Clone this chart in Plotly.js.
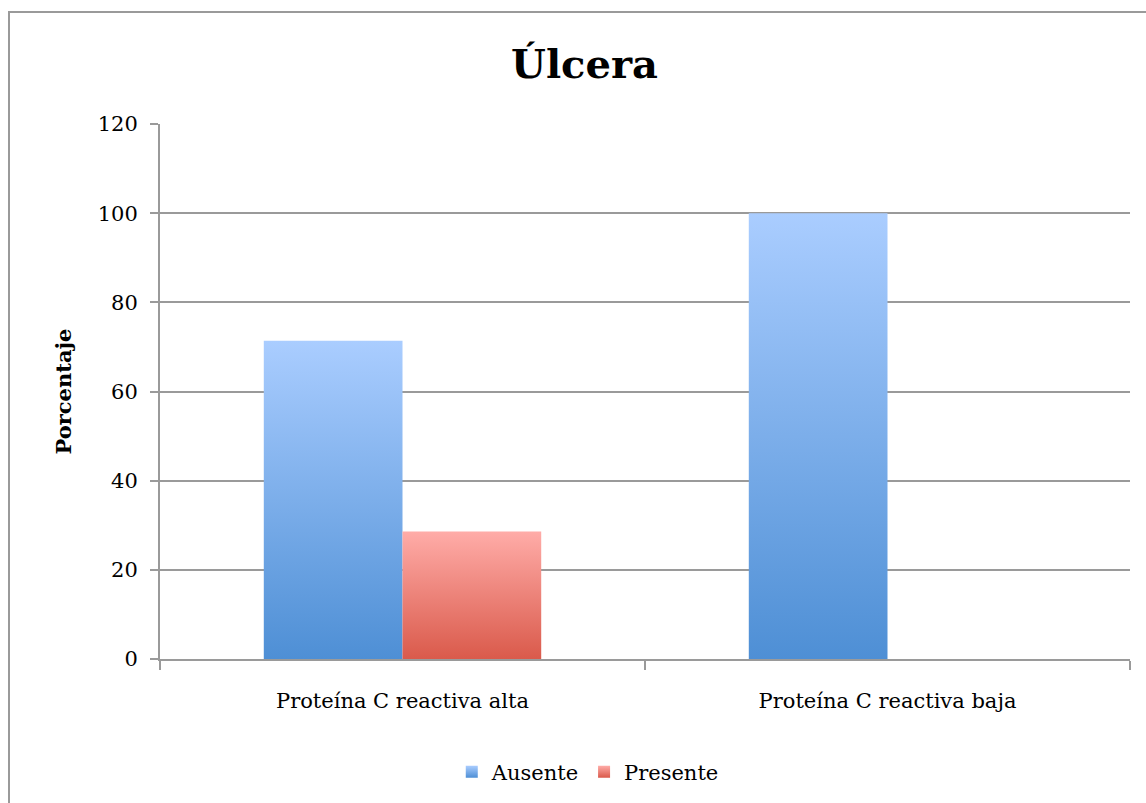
<!DOCTYPE html>
<html>
<head>
<meta charset="utf-8">
<script src="https://cdn.plot.ly/plotly-3.0.1.min.js"></script>
<style>
  html, body { margin: 0; padding: 0; background: #fff; }
  #wrap { position: relative; width: 1146px; height: 803px; overflow: hidden; }
  #chart { position: absolute; left: 0; top: 0; width: 1146px; height: 803px; }
  #frame { position: absolute; left: 8px; top: 11px; width: 1200px; height: 900px;
           border-left: 2px solid #9a9a9a; border-top: 2px solid #9a9a9a; pointer-events: none; }
</style>
</head>
<body>
<div id="wrap">
  <div id="chart"></div>
  <div id="frame"></div>
</div>
<script>
const categories = ['Proteína C reactiva alta', 'Proteína C reactiva baja'];
const seriesNames = ['Ausente', 'Presente'];
const ausente = [71.4, 100];
const presente = [28.6, 0];
const yTicks = [0, 20, 40, 60, 80, 100, 120];

const FONT = 'DejaVu Serif, Liberation Serif, serif';

const traces = [
  { type: 'bar', name: seriesNames[0], x: categories, y: ausente, marker: { color: '#7aaee8', line: { width: 0 } } },
  { type: 'bar', name: seriesNames[1], x: categories, y: presente, marker: { color: '#ee807a', line: { width: 0 } } }
];

const layout = {
  width: 1146, height: 803,
  paper_bgcolor: '#ffffff', plot_bgcolor: '#ffffff',
  margin: { l: 160, r: 16, t: 124, b: 143 },
  barmode: 'group', bargap: 0.428, bargroupgap: 0,
  showlegend: true,
  title: {
    text: '<b>Úlcera</b>', font: { family: FONT, size: 40, color: '#000' },
    xref: 'container', yref: 'container', x: 0.51, y: 0.92, xanchor: 'center', yanchor: 'middle'
  },
  font: { family: FONT, color: '#000', size: 21 },
  xaxis: {
    type: 'category', tickson: 'boundaries', ticks: 'outside', ticklen: 9, tickwidth: 2, tickcolor: '#9a9a9a',
    showline: true, linecolor: '#9a9a9a', linewidth: 2, showgrid: false, zeroline: false,
    tickfont: { family: FONT, size: 21, color: '#000' }, ticklabelstandoff: 22
  },
  yaxis: {
    range: [0, 120], tickvals: yTicks, ticktext: yTicks.map(String),
    ticks: 'outside', ticklen: 8, tickwidth: 2, tickcolor: '#9a9a9a',
    showline: true, linecolor: '#9a9a9a', linewidth: 2,
    showgrid: true, gridcolor: '#9a9a9a', gridwidth: 2, zeroline: false,
    tickfont: { family: FONT, size: 21, color: '#000' }, ticklabelstandoff: 8,
    title: { text: '<b>Porcentaje</b>', font: { family: FONT, size: 21, color: '#000' }, standoff: 20 }
  },
  legend: {
    orientation: 'h', x: 0.441, xanchor: 'center', y: -0.209, yanchor: 'middle',
    font: { family: FONT, size: 21, color: '#000' }, itemwidth: 30, tracegroupgap: 0
  }
};

Plotly.newPlot('chart', traces, layout, { staticPlot: true, displayModeBar: false }).then(function (gd) {
  const svg = gd.querySelector('svg.main-svg');
  const NS = 'http://www.w3.org/2000/svg';
  let defs = svg.querySelector('defs');
  if (!defs) { defs = document.createElementNS(NS, 'defs'); svg.insertBefore(defs, svg.firstChild); }
  function grad(id, top, bottom) {
    const g = document.createElementNS(NS, 'linearGradient');
    g.setAttribute('id', id);
    g.setAttribute('x1', '0'); g.setAttribute('y1', '0'); g.setAttribute('x2', '0'); g.setAttribute('y2', '1');
    [[0, top], [1, bottom]].forEach(function (s) {
      const st = document.createElementNS(NS, 'stop');
      st.setAttribute('offset', String(s[0]));
      st.setAttribute('stop-color', s[1]);
      g.appendChild(st);
    });
    defs.appendChild(g);
  }
  grad('gBlue', '#aacdff', '#4e8fd5');
  grad('gRed', '#ffaca8', '#da5a4b');
  const ids = ['url(#gBlue)', 'url(#gRed)'];
  gd.querySelectorAll('.barlayer .trace.bars').forEach(function (t, i) {
    t.querySelectorAll('path').forEach(function (p) { p.style.fill = ids[i]; });
  });
  gd.querySelectorAll('.legend .traces').forEach(function (t, i) {
    t.querySelectorAll('.legendpoints path').forEach(function (p) { p.style.fill = ids[i]; });
  });
});
</script>
</body>
</html>
